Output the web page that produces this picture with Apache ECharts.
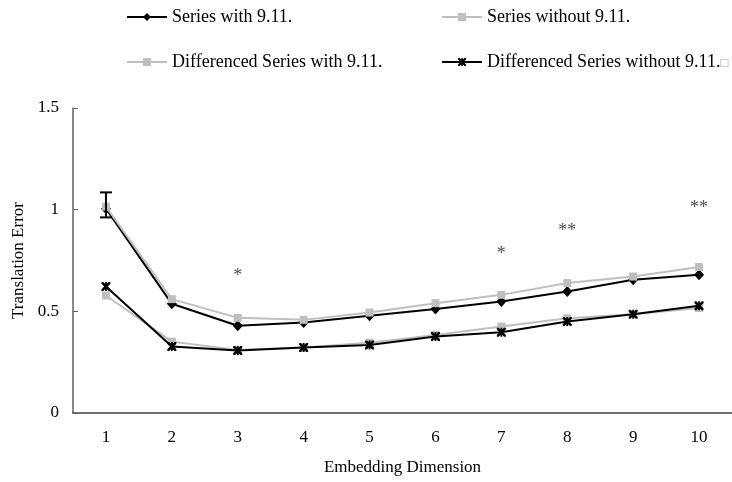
<!DOCTYPE html>
<html>
<head>
<meta charset="utf-8">
<script src="https://cdn.jsdelivr.net/npm/echarts@6/dist/echarts.min.js"></script>
<style>
html, body { margin: 0; padding: 0; background: #fff; }
#main { width: 732px; height: 482px; }
</style>
</head>
<body>
<div id="main"></div>
<script>
// 数据
var categories = ['1', '2', '3', '4', '5', '6', '7', '8', '9', '10'];
var seriesWith = [1.005, 0.537, 0.429, 0.445, 0.478, 0.511, 0.548, 0.598, 0.655, 0.680];
var seriesWithout = [1.015, 0.560, 0.468, 0.458, 0.494, 0.540, 0.581, 0.639, 0.671, 0.718];
var diffWith = [0.578, 0.351, 0.310, 0.322, 0.346, 0.384, 0.425, 0.466, 0.486, 0.516];
var diffWithout = [0.622, 0.327, 0.307, 0.322, 0.335, 0.376, 0.397, 0.450, 0.486, 0.527];

// 误差线 (Series without 9.11., 维度 1)
var errCats = ['1'];
var errLow = [0.962];
var errHigh = [1.085];

// 显著性标记
var sigCats = ['3', '7', '8', '10'];
var sigValues = [0.690, 0.800, 0.913, 1.025];
var sigLabels = ['*', '*', '**', '**'];

var yTicks = [0, 0.5, 1, 1.5];

var names = ['Series with 9.11.', 'Series without 9.11.', 'Differenced Series with 9.11.', 'Differenced Series without 9.11.'];

var FONT = '"Liberation Serif", "Times New Roman", serif';
var GRAY = '#bfbfbf';
var STAR = 'path://M0,0 L2,0 L5,3 L8,0 L10,0 L10,2 L7,5 L10,8 L10,10 L8,10 L5,7 L2,10 L0,10 L0,8 L3,5 L0,2 Z M4,0 L6,0 L6,10 L4,10 Z';

var chart = echarts.init(document.getElementById('main'));

function legendAt(name, left, top, tail) {
    return {
        data: [name],
        left: left,
        top: top,
        padding: 0,
        itemWidth: 40,
        itemHeight: 10,
        itemGap: 4,
        selectedMode: false,
        formatter: tail ? function (n) { return n + '{box|□}'; } : '{name}',
        textStyle: {
            fontFamily: FONT, fontSize: 18, color: '#000',
            rich: { box: { fontFamily: FONT, fontSize: 13, color: '#999', padding: [3, 0, 0, 0] } }
        }
    };
}

chart.setOption({
    animation: false,
    legend: [
        legendAt(names[0], 126, 8),
        legendAt(names[1], 441, 8),
        legendAt(names[2], 126, 53),
        legendAt(names[3], 441, 53, true)
    ],
    grid: { left: 73, right: -7, top: 108, bottom: 69 },
    xAxis: {
        type: 'category',
        data: categories,
        boundaryGap: true,
        name: 'Embedding Dimension',
        nameLocation: 'middle',
        nameGap: 46,
        nameTextStyle: { fontFamily: FONT, fontSize: 17, color: '#000' },
        axisLine: { lineStyle: { color: '#404040', width: 1.5 } },
        axisTick: { inside: true, length: 5, lineStyle: { color: '#404040' } },
        axisLabel: { fontFamily: FONT, fontSize: 17, color: '#000', margin: 16 },
        splitLine: { show: false }
    },
    yAxis: {
        type: 'value',
        min: 0,
        max: 1.5,
        interval: 0.5,
        name: 'Translation Error',
        nameLocation: 'middle',
        nameGap: 46,
        nameTextStyle: { fontFamily: FONT, fontSize: 17, color: '#000' },
        axisLine: { show: true, lineStyle: { color: '#606060', width: 1.5 } },
        axisTick: { show: true, inside: true, length: 5, lineStyle: { color: '#606060' } },
        axisLabel: {
            fontFamily: FONT, fontSize: 17, color: '#000', margin: 14,
            formatter: function (v) { return yTicks.indexOf(v) >= 0 ? String(v) : ''; }
        },
        splitLine: { show: false }
    },
    series: [
        {
            name: names[0],
            type: 'line',
            data: seriesWith,
            color: '#000',
            symbol: 'diamond',
            symbolSize: [10, 11],
            lineStyle: { width: 2, color: '#000' },
            itemStyle: { color: '#000' },
            z: 2
        },
        {
            name: names[1],
            type: 'line',
            data: seriesWithout,
            color: GRAY,
            symbol: 'rect',
            symbolSize: 8,
            lineStyle: { width: 2, color: GRAY },
            itemStyle: { color: GRAY },
            z: 3
        },
        {
            name: names[2],
            type: 'line',
            data: diffWith,
            color: GRAY,
            symbol: 'rect',
            symbolSize: 8,
            lineStyle: { width: 2, color: GRAY },
            itemStyle: { color: GRAY },
            z: 2
        },
        {
            name: names[3],
            type: 'line',
            data: diffWithout,
            color: '#000',
            symbol: STAR,
            symbolSize: 9,
            lineStyle: { width: 2, color: '#000' },
            itemStyle: { color: '#000' },
            z: 3
        },
        {
            // 误差线
            type: 'custom',
            data: errCats.map(function (c, i) { return [categories.indexOf(c), errLow[i], errHigh[i]]; }),
            encode: { x: 0, y: [1, 2] },
            renderItem: function (params, api) {
                var lo = api.coord([api.value(0), api.value(1)]);
                var hi = api.coord([api.value(0), api.value(2)]);
                var w = 6;
                var st = { stroke: '#000', lineWidth: 2 };
                return {
                    type: 'group',
                    children: [
                        { type: 'line', shape: { x1: hi[0], y1: hi[1], x2: lo[0], y2: lo[1] }, style: st },
                        { type: 'line', shape: { x1: hi[0] - w, y1: hi[1], x2: hi[0] + w, y2: hi[1] }, style: st },
                        { type: 'line', shape: { x1: lo[0] - w, y1: lo[1], x2: lo[0] + w, y2: lo[1] }, style: st }
                    ]
                };
            },
            z: 4
        },
        {
            // 显著性星号
            type: 'scatter',
            data: sigCats.map(function (c, i) { return [c, sigValues[i]]; }),
            symbolSize: 1,
            itemStyle: { color: 'rgba(0,0,0,0)' },
            label: {
                show: true,
                position: 'inside',
                offset: [0, 4],
                fontFamily: FONT,
                fontSize: 18,
                color: '#222',
                formatter: function (p) { return sigLabels[p.dataIndex]; }
            }
        }
    ]
});
</script>
</body>
</html>
